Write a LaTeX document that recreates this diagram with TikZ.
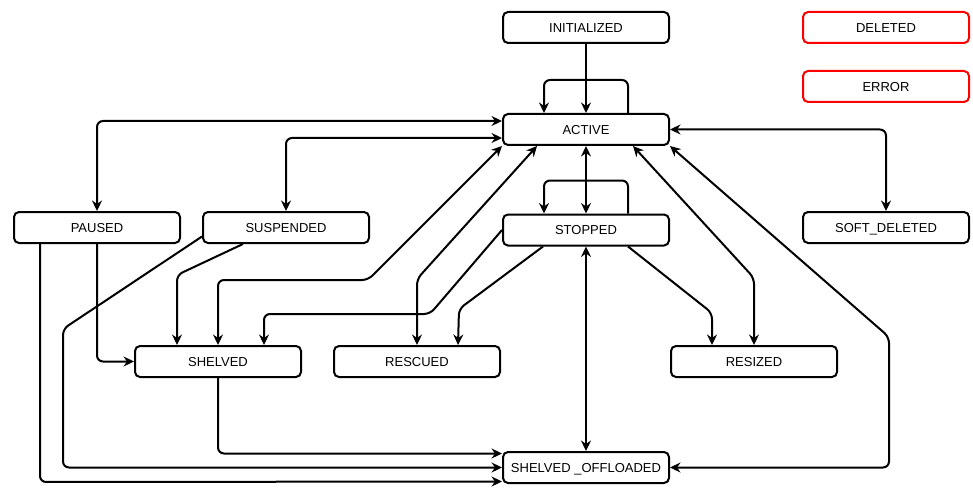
\documentclass[tikz,border=0pt]{standalone}
\usepackage{fontspec}
\setmainfont{Liberation Sans}
\usetikzlibrary{arrows.meta,calc}
\begin{document}
\begin{tikzpicture}[x=1pt,y=-1pt,
  >={Stealth[length=10.5pt,width=10pt,inset=3.5pt]},
  state/.style={draw, line width=2pt, rounded corners=5pt, minimum width=166pt,
    minimum height=31pt, inner sep=0pt, text height=9.4pt, text depth=0pt,
    fill=white, font=\fontsize{13}{15}\selectfont},
  redstate/.style={state, draw=red},
  conn/.style={line width=2pt, rounded corners=6pt, ->},
  bidir/.style={line width=2pt, rounded corners=6pt, <->}
]
\useasboundingbox (0,0) rectangle (973,489);

% nodes
\node[state] (init) at (586,27.5) {INITIALIZED};
\node[redstate] (deleted) at (886,27.5) {DELETED};
\node[redstate] (error) at (886,86.5) {ERROR};
\node[state] (active) at (586,129.5) {ACTIVE};
\node[state] (paused) at (97,227.5) {PAUSED};
\node[state] (susp) at (286,227.5) {SUSPENDED};
\node[state] (stopped) at (586,230) {STOPPED};
\node[state] (soft) at (886,227.5) {SOFT\_DELETED};
\node[state] (shelved) at (218,361.5) {SHELVED};
\node[state] (rescued) at (417,361.5) {RESCUED};
\node[state] (resized) at (754,361.5) {RESIZED};
\node[state] (off) at (586,467.5) {SHELVED \_OFFLOADED};

% connectors
\draw[conn] (init.south) -- (active.north);
\draw[conn] ([xshift=42pt]active.north) -- ++(0,-33) -| ([xshift=-42pt]active.north);
\draw[bidir] ([yshift=8.5pt]active.west) -| (paused.north);
\draw[bidir] ([yshift=-8.5pt]active.west) -| (susp.north);
\draw[bidir] (active.east) -| (soft.north);
\draw[bidir] (active.south) -- (stopped.north);
\draw[conn] ([xshift=42pt]stopped.north) -- ++(0,-33) -| ([xshift=-42pt]stopped.north);
\draw[bidir] (stopped.south) -- (off.north);
\draw[conn] ([xshift=42pt]stopped.south) -- (712,313) -- ([xshift=-42pt]resized.north);
\draw[bidir] (resized.north) -- (754,278) -- ([xshift=47pt]active.south);
\draw[bidir] (off.east) -- (889,467.5) -- (889,337) -- (active.south east);
\draw[bidir] (active.south west) -- (368,280) -- (218,280) -- (shelved.north);
\draw[bidir] ([xshift=-49pt]active.south) -- (417,279) -- (rescued.north);
\draw[conn] (stopped.west) -- (430,314) -- (264,314) -- ([xshift=46pt]shelved.north);
\draw[conn] ([xshift=-43pt]stopped.south) -- (459,309) -- ([xshift=41pt]rescued.north);
\draw[conn] ([xshift=-43pt]susp.south) -- (177,275) -- ([xshift=-41pt]shelved.north);
\draw[conn] ([yshift=-9pt]susp.west) -- (63,329) -- (63,467.5) -- (off.west);
\draw[conn] ([xshift=-57pt]paused.south) -- (40,482) -- ([yshift=-14pt]off.west);
\draw[conn] (shelved.south) -- (218,453.5) -- ([yshift=14pt]off.west);
\draw[conn] (paused.south) |- (shelved.west);
\end{tikzpicture}
\end{document}
